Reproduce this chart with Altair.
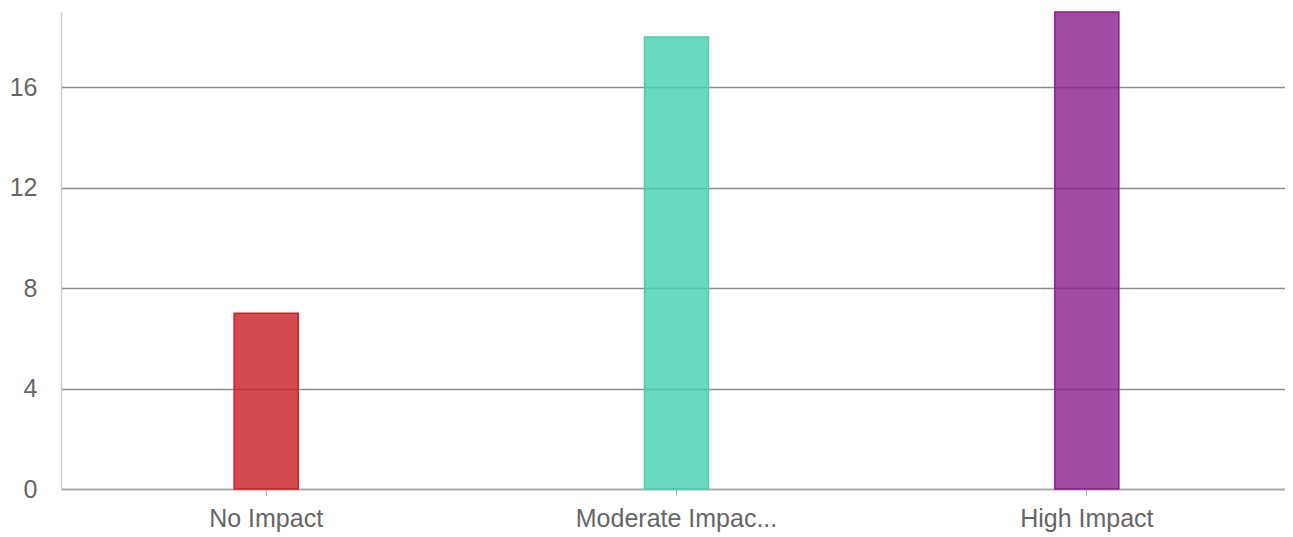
import altair as alt
import pandas as pd

categories = ["No Impact", "Moderate Impact", "High Impact"]
values = [7, 18, 19]
colors = ["#cc1e23", "#46cfb0", "#8c1e8c"]

df = pd.DataFrame({"category": categories, "value": values})

chart = alt.Chart(df).mark_bar(fillOpacity=0.8, strokeWidth=1.5).encode(
    x=alt.X(
        "category:N",
        sort=categories,
        title=None,
        scale=alt.Scale(paddingInner=0.844, paddingOuter=0.422, range=[0, 1231]),
        axis=alt.Axis(
            labelAngle=0,
            labelFont="Liberation Sans",
            labelFontSize=25,
            labelColor="#666666",
            labelPadding=11,
            labelLimit=500,
            tickSize=6,
            tickColor="#aaaaaa",
            domainColor="#aaaaaa",
            domainWidth=1.5,
            grid=False,
            labelExpr="datum.label == 'Moderate Impact' ? 'Moderate Impac...' : datum.label",
        ),
    ),
    y=alt.Y(
        "value:Q",
        title=None,
        scale=alt.Scale(domain=[0, 19], nice=False),
        axis=alt.Axis(
            values=[0, 4, 8, 12, 16],
            labelFont="Liberation Sans",
            labelFontSize=25,
            labelColor="#666666",
            labelPadding=24,
            ticks=False,
            domainColor="#cccccc",
            domainWidth=1.5,
            gridColor="#8c8c8c",
            gridWidth=1.3,
        ),
    ),
    color=alt.Color("category:N", scale=alt.Scale(domain=categories, range=colors), legend=None),
    stroke=alt.Stroke("category:N", scale=alt.Scale(domain=categories, range=colors), legend=None),
).properties(
    width=1224,
    height=477,
    autosize=alt.AutoSizeParams(type="none"),
    padding={"left": 53, "top": 4, "right": 0, "bottom": 46},
).configure_view(stroke=None)

chart.save("out.html", embed_options={"renderer": "svg", "actions": False})
